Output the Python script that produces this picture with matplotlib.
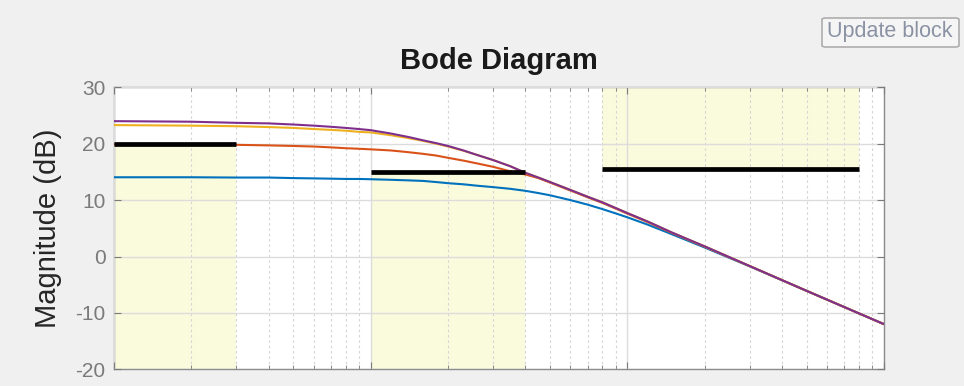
import matplotlib
matplotlib.use("Agg")
import matplotlib.pyplot as plt
from matplotlib.patches import FancyBboxPatch

plt.rcParams['font.family'] = ['Liberation Sans', 'DejaVu Sans']
plt.rcParams['axes.unicode_minus'] = False

# Frequency grid (rad/s) and magnitude responses (dB)
freq = [1, 2, 3, 4, 5, 6, 7, 8, 9, 10, 12, 14, 16, 18, 20, 23, 26, 30, 35,
        40, 45, 50, 60, 70, 80, 90, 100, 120, 150, 200, 300, 500, 1000]
mag_blue = [14.05, 14.05, 14.0, 14.0, 13.9, 13.85, 13.8, 13.75, 13.75, 13.7,
            13.6, 13.5, 13.4, 13.2, 13.0, 12.8, 12.55, 12.3, 12.0, 11.65,
            11.25, 10.85, 10.0, 9.2, 8.4, 7.65, 6.95, 5.65, 3.9, 1.6, -1.75,
            -6.1, -12.0]
mag_orange = [19.9, 19.9, 19.8, 19.7, 19.6, 19.5, 19.35, 19.2, 19.1, 19.0,
              18.8, 18.5, 18.2, 17.9, 17.5, 17.0, 16.5, 15.9, 15.1, 14.55,
              13.9, 13.1, 11.7, 10.5, 9.5, 8.5, 7.6, 6.1, 4.15, 1.75, -1.7,
              -6.1, -12.0]
mag_yellow = [23.3, 23.2, 23.1, 22.95, 22.8, 22.6, 22.45, 22.3, 22.1, 22.0,
              21.5, 21.0, 20.5, 20.0, 19.5, 18.75, 18.0, 17.1, 16.0, 14.85,
              14.0, 13.2, 11.8, 10.6, 9.6, 8.6, 7.7, 6.2, 4.2, 1.8, -1.7,
              -6.1, -12.0]
mag_purple = [24.0, 23.9, 23.7, 23.6, 23.4, 23.2, 23.0, 22.8, 22.6, 22.4,
              21.8, 21.2, 20.6, 20.1, 19.6, 18.8, 18.0, 17.1, 16.0, 14.85,
              14.0, 13.2, 11.8, 10.6, 9.6, 8.6, 7.7, 6.2, 4.2, 1.8, -1.7,
              -6.1, -12.0]

# Gain goals: frequency band, bound level (dB), and whether the bound is a minimum
goal_lo = [1, 10, 80]
goal_hi = [3, 40, 800]
goal_level = [20, 15, 15.5]
goal_is_min = [True, True, False]

yticks = [-20, -10, 0, 10, 20, 30]
ylim = (-20, 30)
xlim = (1, 1000)

W, H, DPI = 964, 386, 100
fig = plt.figure(figsize=(W / DPI, H / DPI), dpi=DPI, facecolor='#F0F0F0')
ax = fig.add_axes([114 / W, 1 - 369.3 / H, 770 / W, (369.3 - 87.3) / H])
ax.set_facecolor('white')
ax.set_xscale('log')
ax.set_xlim(*xlim)
ax.set_ylim(*ylim)

shade = '#FAFADD'
for lo, hi, lev, is_min in zip(goal_lo, goal_hi, goal_level, goal_is_min):
    if is_min:
        ax.fill_between([lo, hi], [ylim[0]] * 2, [lev] * 2, color=shade,
                        lw=0, zorder=1)
    else:
        ax.fill_between([lo, hi], [lev] * 2, [ylim[1]] * 2, color=shade,
                        lw=0, zorder=1)

# grid drawn above the shaded bands
ax.set_axisbelow(False)
ax.grid(True, which='major', color='#DCDCDC', lw=1.0, ls='-')
ax.grid(True, which='minor', axis='x', color='#D4D4D4', lw=0.8,
        ls=(0, (2.2, 2.6)))

series = [(mag_blue, '#0072BD'), (mag_orange, '#D95319'),
          (mag_yellow, '#EDB120'), (mag_purple, '#7E2F8E')]
for mag, col in series:
    ax.plot(freq, mag, color=col, lw=1.5, zorder=4, solid_capstyle='butt')

for lo, hi, lev in zip(goal_lo, goal_hi, goal_level):
    ax.plot([lo, hi], [lev, lev], color='black', lw=3.4, zorder=5,
            solid_capstyle='butt')

ax.set_yticks(yticks)
ax.tick_params(axis='both', which='both', direction='in', top=True,
               right=True, colors='#7A7A7A', labelbottom=False)
ax.tick_params(axis='both', which='major', length=5, width=0.8,
               labelsize=15, labelcolor='#7A7A7A', pad=6)
ax.tick_params(axis='x', which='minor', length=3, width=0.6)
for sp in ax.spines.values():
    sp.set_color('#8C8C8C')
    sp.set_linewidth(1.0)

ax.set_ylabel('Magnitude (dB)', fontsize=21, color='#262626')
ax.yaxis.set_label_coords(-0.068, 0.5)
ax.set_title('Bode Diagram', fontsize=21, fontweight='bold', color='#1A1A1A',
             pad=13)

# disabled push button in the top-right corner
btn = FancyBboxPatch((822 / W, 1 - 47 / H), 137 / W, 29 / H,
                     boxstyle='round,pad=0,rounding_size=0.004',
                     transform=fig.transFigure, facecolor='#F5F5F5',
                     edgecolor='#ADADAD', lw=1.2)
fig.patches.append(btn)
fig.text(890 / W, 1 - 32 / H, 'Update block', ha='center', va='center',
         fontsize=15.5, color='#8A92A4')

fig.savefig('out.png', dpi=DPI, facecolor=fig.get_facecolor())
